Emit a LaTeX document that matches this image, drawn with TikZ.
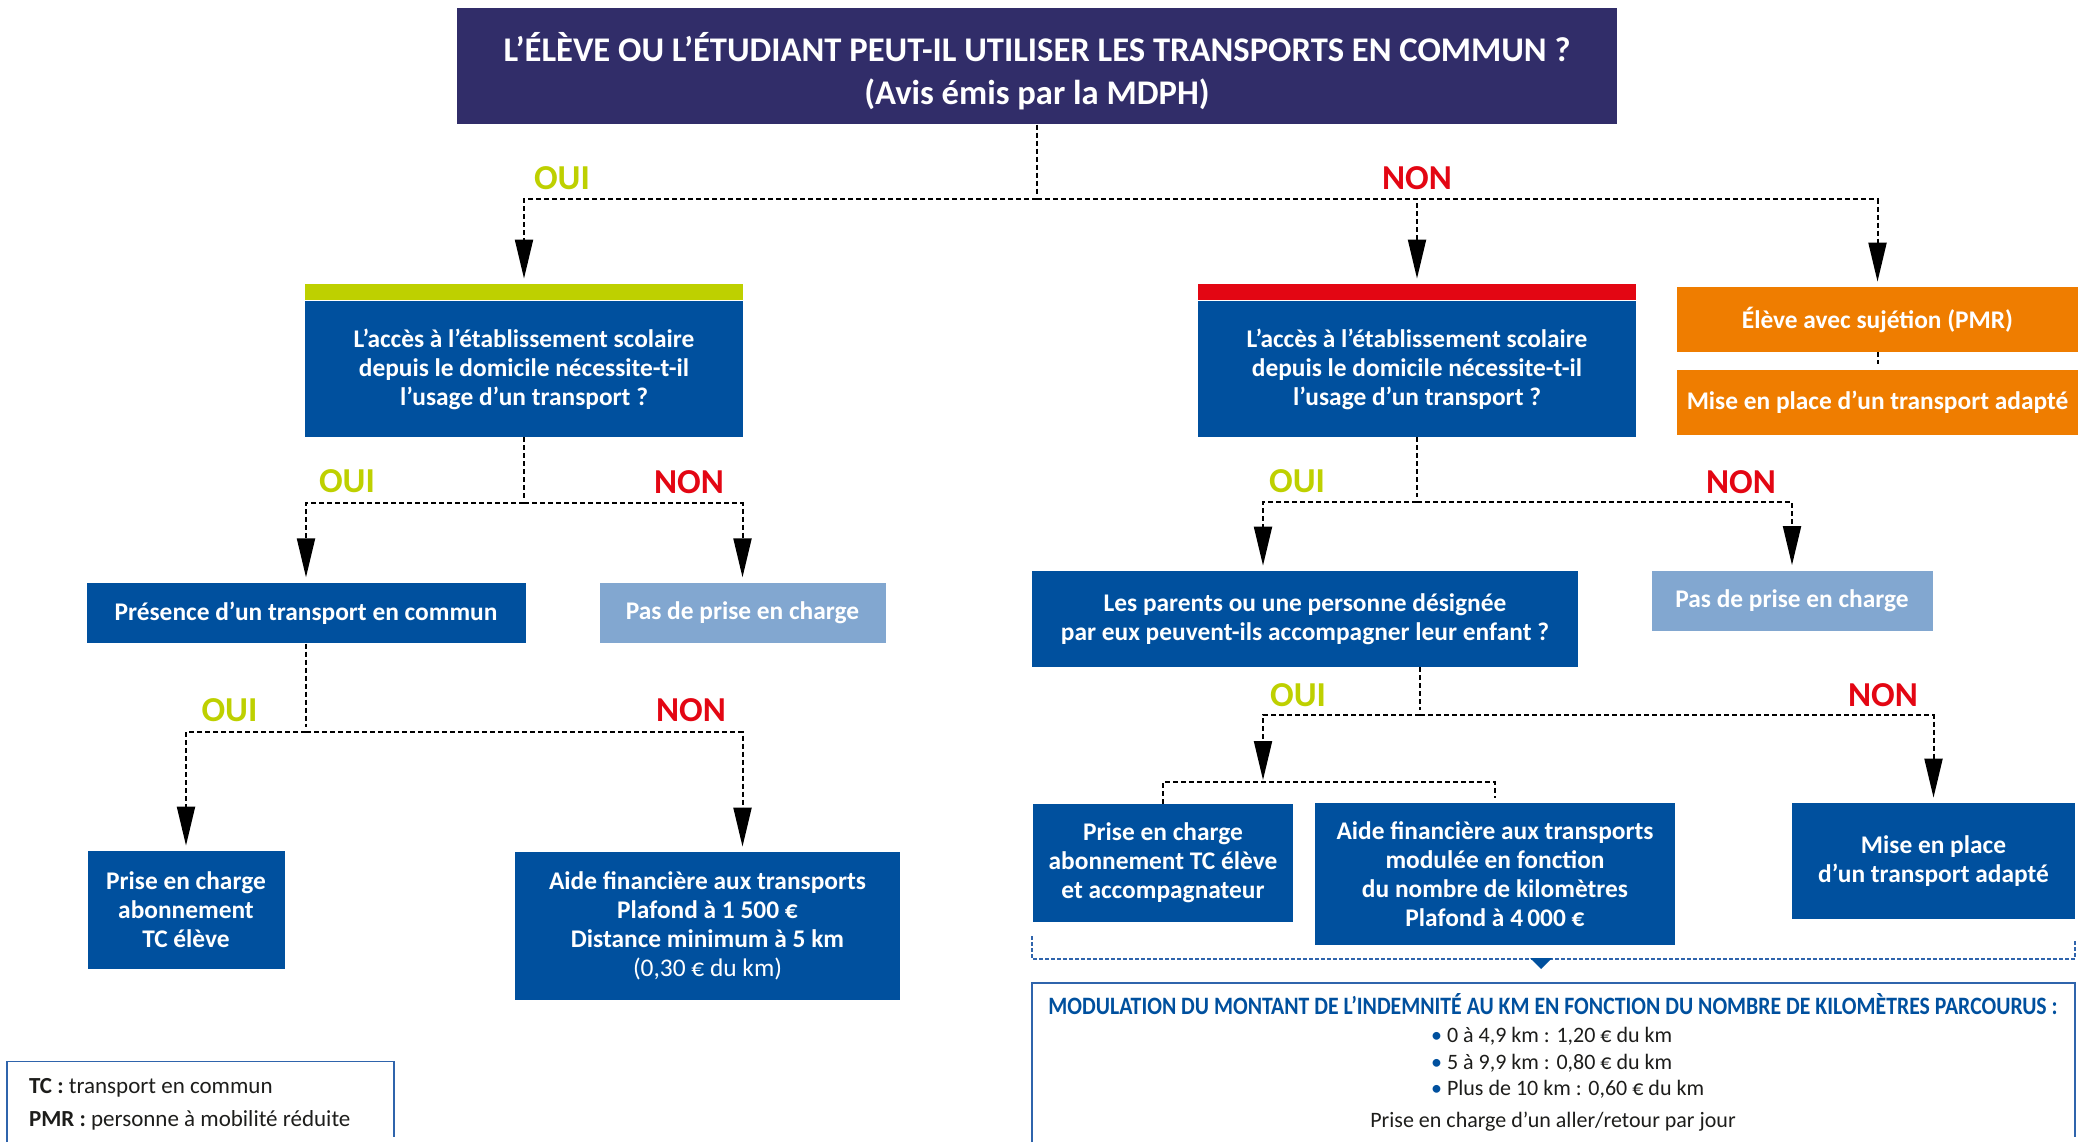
\documentclass[tikz,border=0pt]{standalone}
\usepackage{fontspec}
\setmainfont{Carlito}
\usetikzlibrary{arrows.meta,positioning}

\definecolor{mdphnavy}{HTML}{312D69}
\definecolor{mdphblue}{HTML}{00509E}
\definecolor{ouigreen}{HTML}{BED000}
\definecolor{nonred}{HTML}{E30613}
\definecolor{pmrorange}{HTML}{EF7D00}
\definecolor{paleblue}{HTML}{82A7D0}
\definecolor{frameblue}{HTML}{2F64AC}
\definecolor{textgrey}{HTML}{1D1D1B}

\tikzset{
  hv/.style={to path={-| (\tikztotarget)}},
  box/.style={fill=mdphblue,text=white,align=center,inner sep=0pt,
    font=\bfseries\fontsize{12.7}{14.5}\selectfont},
  palebox/.style={box,fill=paleblue},
  orangebox/.style={box,fill=pmrorange,minimum width=200.5pt,minimum height=32.5pt},
  bar/.style={inner sep=0pt,minimum width=219pt,minimum height=8.25pt},
  oui/.style={text=ouigreen,font=\bfseries\fontsize{17.5}{18}\selectfont},
  non/.style={text=nonred,font=\bfseries\fontsize{17.5}{18}\selectfont},
  link/.style={line width=1pt,dash pattern=on 2.5pt off 1.5pt},
}

\begin{document}
\begin{tikzpicture}[x=0.5pt,y=-0.5pt,>={Triangle[length=19.5pt,width=9pt]},shorten >=2.5pt]
    \useasboundingbox (0,0) rectangle (2086,1142);

    % question
    \node[box,fill=mdphnavy,minimum width=580pt,minimum height=58.25pt] (title) at (1037,66) {};
    \node[text=white,align=center,font=\bfseries\fontsize{17.3}{21.5}\selectfont] (titletext)
      at ([yshift=-2.5pt]title.center)
      {L’ÉLÈVE OU L’ÉTUDIANT PEUT-IL UTILISER LES TRANSPORTS EN COMMUN ?\\(Avis émis par la MDPH)};

    % first level
    \node[box,minimum width=219pt,minimum height=67.75pt] (q1) at (524,369)
      {L’accès à l’établissement scolaire\\depuis le domicile nécessite-t-il\\l’usage d’un transport ?};
    \node[bar,fill=ouigreen,above=0pt of q1] (q1bar) {};
    \node[box,minimum width=219pt,minimum height=67.75pt] (q2) at (1417,369)
      {L’accès à l’établissement scolaire\\depuis le domicile nécessite-t-il\\l’usage d’un transport ?};
    \node[bar,fill=nonred,above=0pt of q2] (q2bar) {};
    \node[orangebox] (pmr1) at (1877.5,319.5) {Élève avec sujétion (PMR)};
    \node[orangebox,below=8.5pt of pmr1] (pmr2) {Mise en place d’un transport adapté};

    % left side
    \node[box,minimum width=219.5pt,minimum height=30.25pt] (pres) at (306,613) {Présence d’un transport en commun};
    \node[palebox,minimum width=143pt,minimum height=30.25pt] (pas1) at (742.5,613) {Pas de prise en charge};
    \node[box,minimum width=98.5pt,minimum height=59pt] (prise1) at (186,910) {Prise en charge\\abonnement\\TC élève};
    \node[box,minimum width=192.5pt,minimum height=74pt] (aide1) at (707.5,926)
      {Aide financière aux transports\\Plafond à 1~500~€\\Distance minimum à 5~km\\{\mdseries (0,30~€ du km)}};

    % right side
    \node[box,minimum width=273pt,minimum height=48pt] (parents) at (1305,619)
      {Les parents ou une personne désignée\\par eux peuvent-ils accompagner leur enfant ?};
    \node[palebox,minimum width=140.5pt,minimum height=30pt] (pas2) at (1792,600.5) {Pas de prise en charge};
    \node[box,minimum width=130pt,minimum height=59pt] (prise2) at (1163,863)
      {Prise en charge\\abonnement TC élève\\et accompagnateur};
    \node[box,minimum width=180pt,minimum height=71pt] (aide2) at (1495,874)
      {Aide financière aux transports\\modulée en fonction\\du nombre de kilomètres\\Plafond à 4\,000~€};
    \node[box,minimum width=141.5pt,minimum height=58pt] (mise) at (1933.5,861)
      {Mise en place\\d’un transport adapté};

    % answers
    \node[oui] (oui1) at (562,178) {OUI};
    \node[non] (non1) at (1417,178) {NON};
    \node[oui] (oui2) at (347,481) {OUI};
    \node[non] (non2) at (689,482) {NON};
    \node[oui] (oui3) at (229.5,710) {OUI};
    \node[non] (non3) at (691,710) {NON};
    \node[oui] (oui4) at (1297,481) {OUI};
    \node[non] (non4) at (1741,482) {NON};
    \node[oui] (oui5) at (1298,695) {OUI};
    \node[non] (non5) at (1883,695) {NON};

    % junctions
    \coordinate (t0) at (1037,199);
    \coordinate (j1) at (524,503);
    \coordinate (j2) at (1417,502);
    \coordinate (j3) at (306,732);
    \coordinate (j4) at (1420,715);
    \coordinate (c1) at (1263,782);

    \draw[link] (title) -- (t0);
    \draw[link] (q1) -- (j1);
    \draw[link] (q2) -- (j2);
    \draw[link] (pres) -- (j3);
    \draw[link] (j4 |- parents.south) -- (j4);
    \draw[link] (pmr1) -- (pmr2);
    \draw[link] (prise2.north) -- (prise2.north |- c1) -- (aide2.north |- c1) -- (aide2.north);

    \path[link,->]
    (t0) edge[hv] (q1bar)
    (t0) edge[hv] (q2bar)
    (t0) edge[hv] (pmr1)
    (j1) edge[hv] (pres)
    (j1) edge[hv] (pas1)
    (j3) edge[hv] (prise1)
    (j3) edge[hv] (aide1.north -| pas1)
    (j2) edge[hv] (parents.north -| c1)
    (j2) edge[hv] (pas2)
    (j4) edge[hv,shorten >=1pt] (c1)
    (j4) edge[hv] (mise);

    % modulation
    \coordinate (b1) at (1032,936);
    \coordinate (b2) at (2075,936);
    \coordinate (m0) at (1541,969);
    \draw[frameblue,line width=0.6pt,dash pattern=on 2pt off 1pt] (b1) -- (b1 |- 0,959) -| (b2);
    \fill[mdphblue] (1530,958) -- (1552,958) -- (m0) -- cycle;
    \draw[frameblue,line width=0.75pt] (1032,1142) |- (2075,983) -- (2075,1142);
    \node[text=mdphblue,font=\bfseries\fontsize{12.5}{14}\selectfont] (modtitle) at (1553,1004.5)
      {\scalebox{0.87}[1]{MODULATION DU MONTANT DE L’INDEMNITÉ AU KM EN FONCTION DU NOMBRE DE KILOMÈTRES PARCOURUS :}};
    \node[anchor=west,align=left,text=textgrey,font=\fontsize{11}{13.25}\selectfont] (rates) at (1424,1063)
      {\textcolor{mdphblue}{•} 0 à 4,9 km : 1,20 € du km\\
       \textcolor{mdphblue}{•} 5 à 9,9 km : 0,80 € du km\\
       \textcolor{mdphblue}{•} Plus de 10 km : 0,60 € du km};
    \node[text=textgrey,font=\fontsize{11}{13.25}\selectfont] (perday) at (1553,1122)
      {Prise en charge d’un aller/retour par jour};

    % legend
    \draw[frameblue,line width=0.75pt] (7,1142) |- (394,1061.5) -- (394,1142);
    \node[anchor=west,text=textgrey,font=\fontsize{11.5}{13}\selectfont] (tc) at (22,1088) {\textbf{TC :} transport en commun};
    \node[anchor=west,text=textgrey,font=\fontsize{11.5}{13}\selectfont] (pmr) at (22,1120) {\textbf{PMR :} personne à mobilité réduite};
  \end{tikzpicture}
\end{document}
